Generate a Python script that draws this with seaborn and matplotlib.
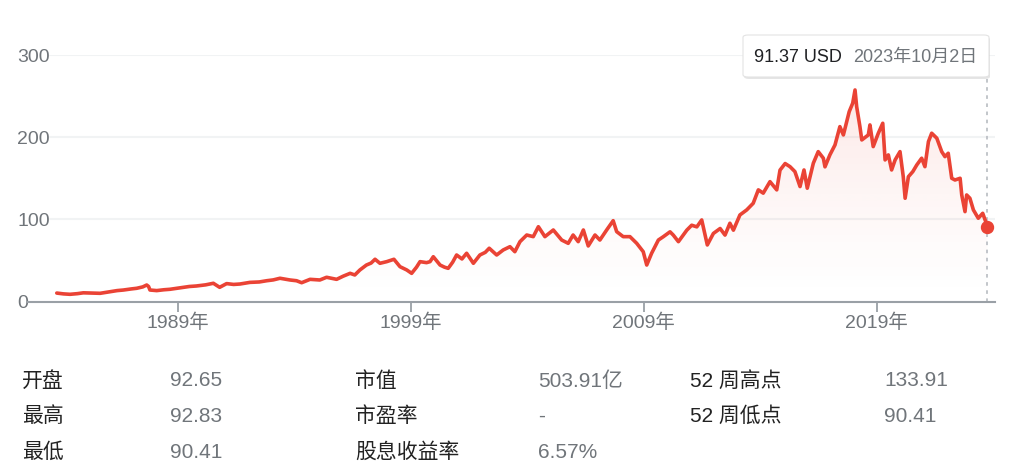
import numpy as np
import pandas as pd
import matplotlib
matplotlib.use("Agg")
import matplotlib.pyplot as plt
import seaborn as sns
from matplotlib.patches import FancyBboxPatch

# ---------------- data ----------------
years = [
    1983.81, 1984.10, 1984.38, 1984.70, 1984.95, 1985.30, 1985.67, 1986.10, 1986.40, 1986.67,
    1987.00, 1987.24, 1987.50, 1987.67, 1987.75, 1987.81, 1988.10, 1988.40, 1988.67, 1989.00,
    1989.24, 1989.50, 1989.80, 1990.20, 1990.53, 1990.80, 1991.10, 1991.40, 1991.67, 1992.10,
    1992.50, 1992.82, 1993.10, 1993.39, 1993.82, 1994.10, 1994.32, 1994.68, 1995.10, 1995.39,
    1995.82, 1996.10, 1996.40, 1996.60, 1996.82, 1997.10, 1997.30, 1997.47, 1997.68, 1997.97,
    1998.28, 1998.54, 1998.83, 1999.04, 1999.25, 1999.40, 1999.68, 1999.83, 1999.97, 2000.26,
    2000.45, 2000.61, 2000.80, 2000.97, 2001.20, 2001.40, 2001.69, 2001.97, 2002.20, 2002.37,
    2002.69, 2002.97, 2003.26, 2003.47, 2003.69, 2003.98, 2004.26, 2004.48, 2004.76, 2005.12,
    2005.48, 2005.76, 2005.97, 2006.19, 2006.41, 2006.62, 2006.91, 2007.12, 2007.41, 2007.69,
    2007.84, 2008.12, 2008.41, 2008.70, 2008.98, 2009.13, 2009.34, 2009.63, 2009.84, 2010.13,
    2010.27, 2010.49, 2010.85, 2011.06, 2011.28, 2011.49, 2011.73, 2011.99, 2012.28, 2012.49,
    2012.70, 2012.85, 2013.13, 2013.42, 2013.70, 2013.92, 2014.13, 2014.42, 2014.71, 2014.85,
    2015.07, 2015.28, 2015.49, 2015.71, 2015.88, 2016.02, 2016.28, 2016.49, 2016.71, 2016.78,
    2016.99, 2017.21, 2017.42, 2017.57, 2017.82, 2017.97, 2018.07, 2018.14, 2018.28, 2018.36,
    2018.64, 2018.71, 2018.85, 2019.07, 2019.26, 2019.36, 2019.50, 2019.64, 2019.79, 2020.00,
    2020.14, 2020.22, 2020.36, 2020.55, 2020.72, 2020.93, 2021.07, 2021.22, 2021.36, 2021.58,
    2021.79, 2021.93, 2022.07, 2022.22, 2022.36, 2022.58, 2022.65, 2022.79, 2022.86, 2023.00,
    2023.15, 2023.36, 2023.55, 2023.68, 2023.75,
]
prices = [
    10.5, 9.5, 9.0, 9.8, 10.8, 10.5, 10.2, 12.2, 13.5, 14.2,
    15.5, 16.3, 18.0, 20.3, 18.5, 14.2, 13.5, 14.5, 15.1, 16.5,
    17.5, 18.5, 19.1, 20.5, 22.4, 17.5, 22.0, 21.0, 21.5, 23.5,
    24.0, 25.5, 26.5, 28.5, 26.4, 25.5, 23.1, 27.2, 26.4, 29.7,
    27.2, 31.0, 34.5, 32.5, 38.6, 44.6, 47.0, 51.6, 46.7, 48.7,
    51.6, 42.6, 38.6, 34.5, 42.0, 48.7, 47.5, 48.7, 54.7, 44.6,
    42.0, 40.6, 48.0, 56.8, 52.0, 58.9, 46.7, 56.8, 60.0, 65.0,
    56.8, 62.9, 66.9, 60.8, 73.0, 81.1, 79.1, 91.2, 79.1, 87.2,
    75.0, 71.0, 81.1, 73.0, 87.2, 67.8, 81.1, 75.0, 87.2, 98.5,
    85.2, 79.1, 79.1, 71.0, 60.8, 44.6, 58.9, 75.0, 79.0, 85.0,
    81.0, 73.0, 87.0, 93.0, 91.0, 99.4, 69.0, 83.0, 89.0, 81.0,
    95.4, 87.0, 105.5, 111.6, 119.7, 136.0, 132.0, 146.0, 136.0, 160.0,
    168.0, 164.2, 158.2, 140.0, 160.2, 138.0, 168.4, 182.5, 174.5, 164.0,
    178.5, 190.6, 212.9, 202.8, 231.1, 241.4, 257.5, 237.2, 212.9, 196.7,
    202.8, 215.0, 188.6, 204.9, 217.0, 172.4, 178.5, 160.2, 172.4, 182.5,
    152.0, 125.8, 152.0, 158.2, 166.3, 174.5, 164.2, 194.6, 204.9, 198.8,
    182.5, 176.4, 180.5, 150.1, 148.0, 150.1, 129.8, 109.5, 129.8, 125.8,
    111.6, 101.5, 107.5, 97.3, 91.37,
]
x_ticks = [1989, 1999, 2009, 2019]
x_tick_labels = ["1989年", "1999年", "2009年", "2019年"]
y_ticks = [0, 100, 200, 300]
last_date_label = "2023年10月2日"
currency = "USD"

col1_labels = ["开盘", "最高", "最低"]
col1_values = ["92.65", "92.83", "90.41"]
col2_labels = ["市值", "市盈率", "股息收益率"]
col2_values = ["503.91亿", "-", "6.57%"]
col3_labels = ["52 周高点", "52 周低点"]
col3_values = ["133.91", "90.41"]

# ---------------- style ----------------
sns.set_theme(style="white")
plt.rcParams["font.family"] = ["Liberation Sans", "Noto Sans CJK SC", "DejaVu Sans"]

RED = "#ea4335"
GREY_TXT = "#70757a"
DARK_TXT = "#222222"
AXIS = "#9aa0a6"
GRID = "#f1f3f4"

W, H = 1011, 476
fig = plt.figure(figsize=(W / 100, H / 100), dpi=100)
fig.patch.set_facecolor("white")

def fx(px):
    return px / W

def fy(py):
    return 1 - py / H

ax_left, ax_right, ax_top, ax_bottom = 28, 995, 55, 301.7
ax = fig.add_axes([fx(ax_left), fy(ax_bottom), (ax_right - ax_left) / W, (ax_bottom - ax_top) / H])
ax.set_facecolor("none")

# year scale: 1989 at px 177.7, 23.3 px / year
x0 = 1989 + (ax_left - 177.7) / 23.3
x1 = 1989 + (ax_right - 177.7) / 23.3

df = pd.DataFrame({"year": years, "price": prices})

# gradient fill under the line
fill = ax.fill_between(df["year"], df["price"], 0, color="none", lw=0)
ny = 256
alpha = np.linspace(0, 1, ny)[:, None]
grad = np.zeros((ny, 1, 4))
r, g, b = matplotlib.colors.to_rgb(RED)
grad[..., 0], grad[..., 1], grad[..., 2] = r, g, b
grad[..., 3] = 0.15 * (alpha ** 1.3)
img = ax.imshow(grad, extent=[x0, x1, 0, 300], origin="lower", aspect="auto",
                interpolation="bilinear", zorder=1)
img.set_clip_path(fill.get_paths()[0], transform=ax.transData)

# gridlines
gx = (50 - ax_left) / (ax_right - ax_left)
for yt in y_ticks[1:]:
    ax.axhline(yt, xmin=gx, xmax=1, color=GRID, lw=1.5, zorder=0)

sns.lineplot(data=df, x="year", y="price", ax=ax, color=RED, lw=2.6, zorder=3)

# vertical dashed hover line and end dot
ax.plot([years[-1], years[-1]], [0, 272], color="#bdc1c6", lw=1.3, ls=(0, (2, 2.5)), zorder=2, clip_on=False)
ax.plot([years[-1]], [prices[-1]], "o", color=RED, ms=8.6, zorder=4, mec=RED)

ax.set_xlim(x0, x1)
ax.set_ylim(0, 300)
ax.set_xlabel("")
ax.set_ylabel("")

ax.set_xticks(x_ticks)
ax.set_xticklabels(x_tick_labels)
ax.set_yticks(y_ticks)
ax.set_yticklabels([str(v) for v in y_ticks])
ax.tick_params(axis="x", length=7.2, width=1.3, color=AXIS, pad=1.5, labelsize=14, labelcolor=GREY_TXT, direction="out", bottom=True)
ax.tick_params(axis="y", length=0, pad=7.9, labelsize=14, labelcolor=GREY_TXT)
for lab in ax.get_yticklabels():
    lab.set_horizontalalignment("left")

for s in ["top", "right", "left"]:
    ax.spines[s].set_visible(False)
ax.spines["bottom"].set_color(AXIS)
ax.spines["bottom"].set_linewidth(1.5)
ax.spines["bottom"].set_zorder(5)

# tooltip
bx0, bx1, by0, by1 = 743, 989, 35, 77
shadow = FancyBboxPatch((fx(bx0 + 1), fy(by1 + 2)), (bx1 - bx0) / W, (by1 - by0) / H,
                        boxstyle="round,pad=0,rounding_size=0.005", transform=fig.transFigure,
                        facecolor="#000000", alpha=0.10, edgecolor="none", zorder=9)
box = FancyBboxPatch((fx(bx0), fy(by1)), (bx1 - bx0) / W, (by1 - by0) / H,
                     boxstyle="round,pad=0,rounding_size=0.005", transform=fig.transFigure,
                     facecolor="white", edgecolor="#e3e3e3", lw=0.8, zorder=10)
fig.patches.extend([shadow, box])
fig.text(fx(754), fy(57), f"{prices[-1]:.2f} {currency}", fontsize=13, color="#202124", va="center", ha="left", zorder=11)
fig.text(fx(853), fy(57), last_date_label, fontsize=13, color=GREY_TXT, va="center", ha="left", zorder=11)

# stats table
row_y = [381, 416, 452]
cols = [(22, 170, col1_labels, col1_values), (355, 538, col2_labels, col2_values), (690, 884, col3_labels, col3_values)]
for lx, vx, labs, vals in cols:
    for i, (lab, val) in enumerate(zip(labs, vals)):
        fig.text(fx(lx), fy(row_y[i]), lab, fontsize=15, color=DARK_TXT, va="center", ha="left")
        fig.text(fx(vx), fy(row_y[i]), val, fontsize=15, color=GREY_TXT, va="center", ha="left")

fig.savefig("out.png", dpi=100, facecolor="white")
